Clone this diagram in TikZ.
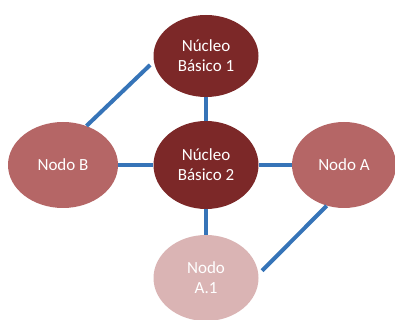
\documentclass[tikz,border=0pt]{standalone}
\usepackage{fontspec}
\setmainfont{Carlito}
\usetikzlibrary{shapes.geometric}
\definecolor{darkred}{RGB}{124,40,40}
\definecolor{midred}{RGB}{181,102,102}
\definecolor{lightred}{RGB}{218,180,180}
\definecolor{linkblue}{RGB}{54,116,184}
\tikzset{
  bubble/.style={ellipse, draw=none, text=white, minimum width=105pt, minimum height=86pt, inner sep=0pt, align=center, font=\fontsize{17}{20}\selectfont},
  link/.style={draw=linkblue, line width=4pt}
}
\begin{document}
\begin{tikzpicture}[x=1pt,y=1pt]
\useasboundingbox (0,0) rectangle (395,320);
\node[bubble, fill=darkred, minimum height=82pt] (n1) at (206,264) {Núcleo\\Básico 1};
\node[bubble, fill=darkred, minimum height=88pt] (n2) at (206,155) {Núcleo\\Básico 2};
\node[bubble, fill=midred, minimum width=110pt] (nb) at (63,155) {Nodo B};
\node[bubble, fill=midred, minimum width=104pt] (na) at (344,155) {Nodo A};
\node[bubble, fill=lightred, minimum width=105pt] (a1) at (206,42) {Nodo\\A.1};
\draw[link] (n1) -- (n2);
\draw[link] (nb) -- (n2);
\draw[link] (n2) -- (na);
\draw[link] (n2) -- (a1);
\draw[link, shorten >=5pt] (nb.59) -- (n1.186);
\draw[link, shorten <=5pt] (a1.4) -- (na.247);
\end{tikzpicture}
\end{document}
